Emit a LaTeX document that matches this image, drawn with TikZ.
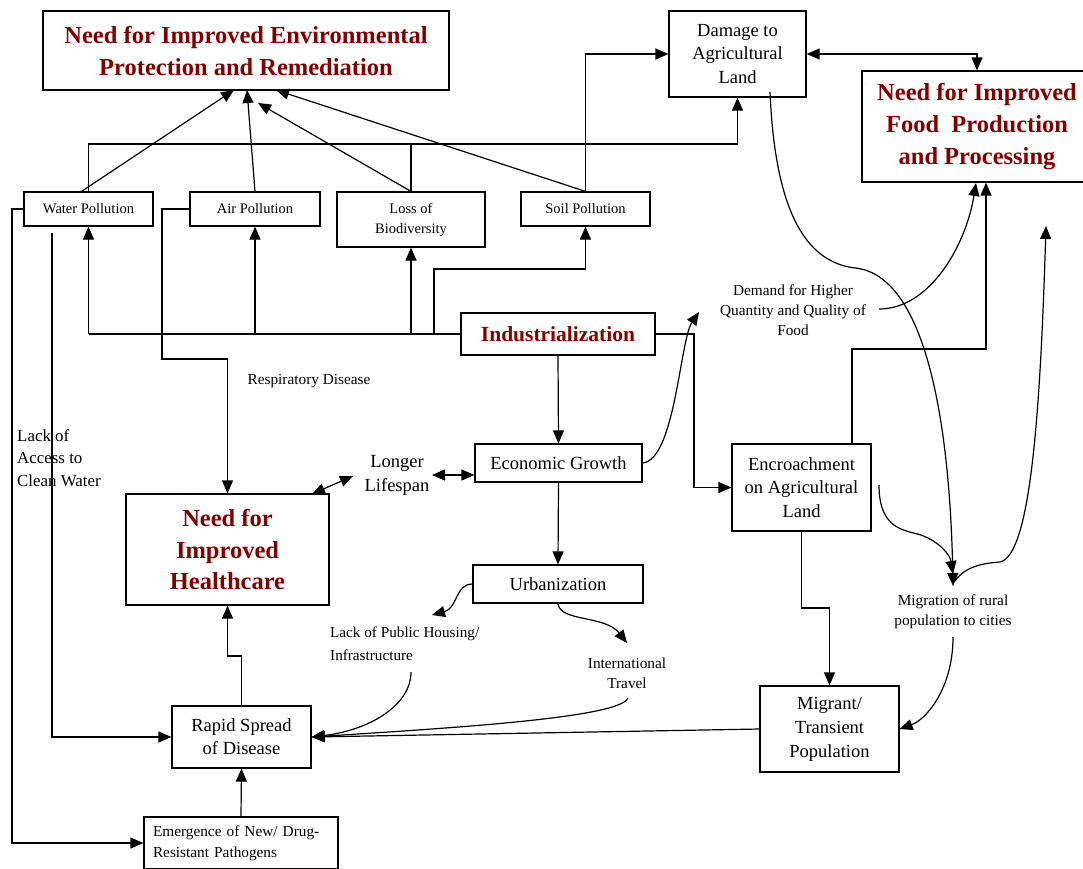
\documentclass[tikz,border=0pt]{standalone}
\usepackage{fontspec}
\setmainfont{Liberation Serif}
\usetikzlibrary{arrows.meta,calc}
\definecolor{titlered}{RGB}{128,0,0}
\tikzset{
 box/.style={draw, line width=1.2pt, inner sep=0pt, align=center},
 med/.style={font=\fontsize{18.5}{23.5}\selectfont},
 sml/.style={font=\fontsize{14.5}{20}\selectfont},
 lab/.style={font=\fontsize{15.3}{20}\selectfont, align=center, inner sep=0pt},
 ttl/.style={font=\fontsize{24.5}{32}\selectfont\bfseries, text=titlered},
 ln/.style={line width=1.2pt},
 arr/.style={line width=1.2pt, -{Triangle[length=13pt,width=11pt]}},
 arrr/.style={line width=1.2pt, {Triangle[length=13pt,width=11pt]}-{Triangle[length=13pt,width=11pt]}},
}
\begin{document}
\begin{tikzpicture}[x=1pt,y=-1pt]
\useasboundingbox (0,0) rectangle (1083,868);
% boxes
\node[box,ttl,minimum width=406pt,minimum height=79pt] (env) at (246,50.5) {Need for Improved Environmental\\Protection and Remediation};
\node[box,med,minimum width=137pt,minimum height=86pt] (damage) at (737.5,54) {Damage to\\Agricultural\\Land};
\node[box,ttl,minimum width=230pt,minimum height=111pt] (food) at (977,126.5) {Need for Improved\\Food\ \ Production\\and Processing};
\node[box,sml,minimum width=129pt,minimum height=34pt] (water) at (88.5,209) {Water Pollution};
\node[box,sml,minimum width=130pt,minimum height=34pt] (air) at (255,209) {Air Pollution};
\node[box,sml,minimum width=148pt,minimum height=55pt] (loss) at (411,219.5) {Loss of\\Biodiversity};
\node[box,sml,minimum width=129pt,minimum height=34pt] (soil) at (585.5,209) {Soil Pollution};
\node[box,minimum width=194pt,minimum height=42pt,font=\fontsize{21.5}{26}\selectfont\bfseries,text=titlered] (ind) at (558,334) {Industrialization};
\node[box,med,minimum width=167pt,minimum height=38pt] (eg) at (558.5,463) {Economic Growth};
\node[box,med,minimum width=170pt,minimum height=38pt] (urb) at (558,584) {Urbanization};
\node[box,med,minimum width=139pt,minimum height=87pt] (enc) at (801.5,487.5) {Encroachment\\on Agricultural\\Land};
\node[box,ttl,minimum width=203pt,minimum height=111pt,font=\fontsize{24.5}{31.5}\selectfont\bfseries] (health) at (227.5,549.5) {Need for\\Improved\\Healthcare};
\node[box,med,minimum width=139pt,minimum height=62pt,font=\fontsize{18.5}{23}\selectfont] (rapid) at (241.5,737) {Rapid Spread\\of Disease};
\node[box,minimum height=52pt,text width=176pt,inner xsep=9pt,inner ysep=0pt,align=left,font=\fontsize{15.3}{21}\selectfont] (emer) at (241,843) {Emergence of New/ Drug-\\Resistant Pathogens};
\node[box,med,minimum width=139pt,minimum height=86pt,font=\fontsize{18.5}{24}\selectfont] (migrant) at (829.5,729) {Migrant/\\Transient\\Population};
% free labels
\node[lab] (resp) at (309,381) {Respiratory Disease};
\node[lab,align=left,anchor=west,font=\fontsize{16.9}{22.5}\selectfont] (lackw) at (17,458) {Lack of\\Access to\\Clean Water};
\node[lab,med,font=\fontsize{18.5}{24}\selectfont] (longer) at (397,475) {Longer\\Lifespan};
\node[lab] (demand) at (793,310) {Demand for Higher\\Quantity and Quality of\\Food};
\node[lab,align=left,anchor=west,font=\fontsize{15.2}{23}\selectfont] (housing) at (330,643.5) {Lack of Public Housing/\\Infrastructure};
\node[lab] (travel) at (627,673) {International\\Travel};
\node[lab] (migr) at (953,612) {Migration of rural\\population to cities};
% coordinates
\coordinate (h1) at (0,144);
\coordinate (sb) at (434,334);
\coordinate (sc) at (434,269);
\coordinate (ir) at (694,0);
\coordinate (al) at (162,359);
\coordinate (wl) at (12,843);
\coordinate (cw) at (52,233);
\coordinate (rh) at (241.5,656);
\coordinate (lr) at (432,475);
\coordinate (ll) at (353,476);
\coordinate (hl) at (312,494);
\coordinate (et) at (852,444);
\coordinate (ef) at (986,349);
\coordinate (em) at (801.5,608);
\coordinate (envw) at (234,90);
\coordinate (enva) at (247,90);
\coordinate (envl) at (258,103);
\coordinate (envs) at (276,90);
\coordinate (demo) at (699,312);
\coordinate (demr) at (879,309);
\coordinate (foodc) at (976,183);
\coordinate (housb) at (411,672);
\coordinate (houst) at (432,615);
\coordinate (travt) at (627,643);
\coordinate (travb) at (628,698);
\coordinate (dambot) at (770,92);
\coordinate (encr) at (879,485);
\coordinate (migt) at (953,586);
\coordinate (migt2) at (953,574);
\coordinate (migs) at (955,581);
\coordinate (foodfree) at (1046,226);
\coordinate (migb) at (953,637);
% to environmental box
\draw[arr] ([xshift=-7pt]water.north) -- (envw);
\draw[arr] (air.north) -- (enva);
\draw[arr] (loss.north) -- (envl);
\draw[arr] (soil.north) -- (envs);
% to damage box
\draw[arr] (water.north) |- (h1 -| damage.south) -- (damage.south);
\draw[ln] (loss.north) -- (loss.north |- h1);
\draw[arr] (soil.north) |- (damage.west);
\draw[arrr] (damage.east) -| (food.north);
% industrialization
\draw[ln] (ind.west) -- (water.south |- ind.west);
\draw[arr] (water.south |- ind.west) -- (water.south);
\draw[arr] (air.south |- ind.west) -- (air.south);
\draw[arr] (loss.south |- ind.west) -- (loss.south);
\draw[arr] (sb) -- (sc) -| (soil.south);
\draw[arr] (ind.east) -| (ir |- enc.west) -- (enc.west);
\draw[arr] (ind.south) -- (eg.north);
\draw[arr] (eg.south) -- (urb.north);
% health related
\draw[arr] (air.west) -| (al) -| (health.north);
\draw[arr] (water.west) -| (wl) -- (emer.west);
\draw[arr] (cw) |- (rapid.west);
\draw[arr] (rapid.north) -- (rh) -| (health.south);
\draw[arr] (emer.north) -- (rapid.south);
\draw[arrr] (lr) -- (lr -| eg.west);
\draw[arrr] (ll) -- (hl);
% food related
\draw[arr] (eg.east) .. controls (675,460) and (680,340) .. (demo);
\draw[arr] (demr) .. controls (930,309) and (966,245) .. (foodc);
\draw[arr] (et) |- (ef) -- (ef |- food.south);
\draw[arr] (enc.south) -- (em) -| (migrant.north);
% disease spread
\draw[arr] (migrant.west) -- (rapid.east);
\draw[arr] (travb) .. controls (620,718) and (450,728) .. (rapid.east);
\draw[arr] (housb) .. controls (411,705) and (370,730) .. (rapid.east);
\draw[arr] (urb.west) .. controls (455,584) and (458,608) .. (houst);
\draw[arr] (urb.south) .. controls (560,622) and (605,615) .. (travt);
% migration
\draw[arr] (dambot) .. controls (775,210) and (805,262) .. (855,268) .. controls (925,275) and (950,420) .. (migt);
\draw[arr] (encr) .. controls (879,530) and (905,530) .. (921,535) .. controls (940,542) and (950,555) .. (migt2);
\draw[arr] (migs) .. controls (965,566) and (985,563) .. (1000,562) .. controls (1030,555) and (1040,420) .. (foodfree);
\draw[arr] (migb) .. controls (953,690) and (925,720) .. (migrant.east);
\end{tikzpicture}
\end{document}
